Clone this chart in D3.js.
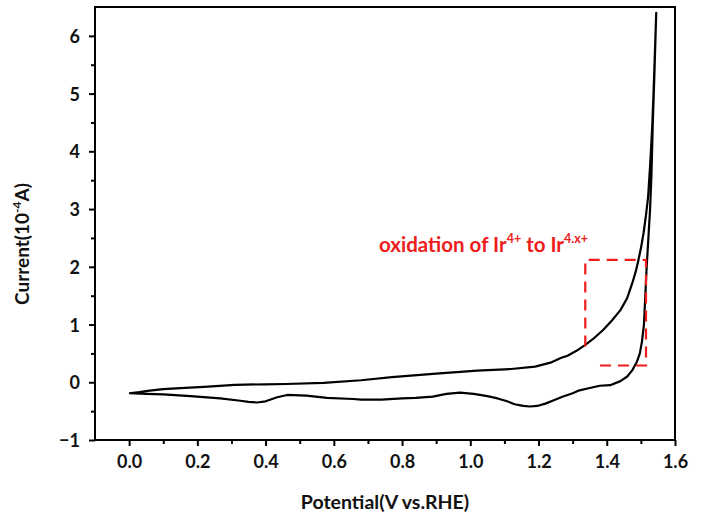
<!DOCTYPE html>
<html>
<head>
<meta charset="utf-8">
<script src="https://cdn.jsdelivr.net/npm/d3@7"></script>
<style>
  html, body { margin: 0; padding: 0; background: #fff; }
  svg { display: block; }
  text { font-family: Lato, "Open Sans", sans-serif; font-weight: bold; }
</style>
</head>
<body>
<svg id="chart" width="701" height="517"></svg>
<script>
// Cyclic voltammogram: forward (anodic) sweep
const forwardPotential = [0.00, 0.03, 0.06, 0.10, 0.15, 0.22, 0.31, 0.40, 0.46, 0.57, 0.68, 0.77, 0.90, 1.02, 1.12, 1.19, 1.235, 1.265, 1.285, 1.31, 1.335, 1.36, 1.39, 1.415, 1.44, 1.46, 1.475, 1.485, 1.493, 1.501, 1.508, 1.515, 1.521, 1.527, 1.533, 1.537, 1.541, 1.545];
const forwardCurrent   = [-0.19, -0.17, -0.145, -0.12, -0.10, -0.08, -0.045, -0.035, -0.03, -0.01, 0.035, 0.09, 0.15, 0.20, 0.23, 0.27, 0.34, 0.42, 0.46, 0.54, 0.64, 0.75, 0.91, 1.07, 1.25, 1.46, 1.72, 1.92, 2.12, 2.35, 2.59, 2.90, 3.20, 3.75, 4.40, 5.00, 5.70, 6.40];

// Reverse (cathodic) sweep
const reversePotential = [1.545, 1.540, 1.535, 1.531, 1.527, 1.521, 1.517, 1.513, 1.509, 1.503, 1.497, 1.488, 1.475, 1.46, 1.44, 1.41, 1.38, 1.35, 1.32, 1.30, 1.27, 1.245, 1.22, 1.196, 1.175, 1.155, 1.13, 1.108, 1.08, 1.05, 1.01, 0.97, 0.93, 0.89, 0.84, 0.80, 0.74, 0.68, 0.657, 0.58, 0.52, 0.463, 0.434, 0.40, 0.375, 0.35, 0.326, 0.267, 0.18, 0.10, 0.05, 0.00];
const reverseCurrent   = [6.40, 5.40, 4.50, 3.60, 3.00, 2.40, 2.00, 1.50, 1.00, 0.70, 0.50, 0.35, 0.21, 0.10, 0.02, -0.05, -0.06, -0.10, -0.14, -0.19, -0.25, -0.31, -0.37, -0.41, -0.42, -0.41, -0.38, -0.33, -0.28, -0.24, -0.20, -0.18, -0.20, -0.25, -0.27, -0.28, -0.30, -0.30, -0.29, -0.27, -0.23, -0.22, -0.26, -0.33, -0.35, -0.34, -0.32, -0.28, -0.24, -0.21, -0.20, -0.19];

// Axis ticks
const xTicks = [0.0, 0.2, 0.4, 0.6, 0.8, 1.0, 1.2, 1.4, 1.6];
const xMinorTicks = [0.1, 0.3, 0.5, 0.7, 0.9, 1.1, 1.3, 1.5];
const yTicks = [-1, 0, 1, 2, 3, 4, 5, 6];
const yMinorTicks = [-0.5, 0.5, 1.5, 2.5, 3.5, 4.5, 5.5];

// Highlighted region (open dashed outline), potential / current pairs
const boxPotential = [1.38, 1.515, 1.515, 1.337, 1.337];
const boxCurrent   = [0.29, 0.29, 2.12, 2.12, 0.56];

const svg = d3.select("#chart");
const plotLeft = 95, plotRight = 675, plotTop = 7, plotBottom = 440;

const x = d3.scaleLinear().domain([-0.1, 1.6]).range([plotLeft, plotRight]);
const y = d3.scaleLinear().domain([-1, 6.5]).range([plotBottom, plotTop]);

const line = d3.line().x(d => x(d[0])).y(d => y(d[1]));

const loop = forwardPotential.map((p, i) => [p, forwardCurrent[i]])
  .concat(reversePotential.map((p, i) => [p, reverseCurrent[i]]));

// Frame
svg.append("rect")
  .attr("x", plotLeft).attr("y", plotTop)
  .attr("width", plotRight - plotLeft).attr("height", plotBottom - plotTop)
  .attr("fill", "none").attr("stroke", "#000").attr("stroke-width", 2);

// Bottom axis
const xAxis = svg.append("g").attr("transform", `translate(0,${plotBottom})`)
  .call(d3.axisBottom(x).tickValues(xTicks).tickFormat(d3.format(".1f")).tickSize(6).tickPadding(9));
svg.append("g").attr("transform", `translate(0,${plotBottom})`)
  .call(d3.axisBottom(x).tickValues(xMinorTicks).tickFormat("").tickSize(4));

// Left axis
const yAxis = svg.append("g").attr("transform", `translate(${plotLeft},0)`)
  .call(d3.axisLeft(y).tickValues(yTicks).tickFormat(d3.format("d")).tickSize(6).tickPadding(9));
svg.append("g").attr("transform", `translate(${plotLeft},0)`)
  .call(d3.axisLeft(y).tickValues(yMinorTicks).tickFormat("").tickSize(4));

svg.selectAll(".domain").remove();
svg.selectAll(".tick line").attr("stroke", "#000").attr("stroke-width", 2);
svg.selectAll(".tick text")
  .attr("fill", "#111")
  .style("font-family", "Lato, 'Open Sans', sans-serif")
  .style("font-weight", "bold")
  .style("font-size", "18px");
yAxis.selectAll(".tick text").attr("dy", "0.36em");

// CV curve
svg.append("path")
  .datum(loop)
  .attr("d", line)
  .attr("fill", "none")
  .attr("stroke", "#000")
  .attr("stroke-width", 2.2)
  .attr("stroke-linejoin", "round");

// Dashed highlight outline
svg.append("path")
  .datum(boxPotential.map((p, i) => [p, boxCurrent[i]]))
  .attr("d", line)
  .attr("fill", "none")
  .attr("stroke", "#ee1c1c")
  .attr("stroke-width", 2.2)
  .attr("stroke-dasharray", "11,7");

// Annotation
const note = svg.append("text")
  .attr("x", 379).attr("y", 252)
  .attr("fill", "#ee1c1c")
  .style("font-size", "20.5px");
note.append("tspan").text("oxidation of Ir");
note.append("tspan").attr("dy", -9).style("font-size", "12.5px").text("4+");
note.append("tspan").attr("dy", 9).text(" to Ir");
note.append("tspan").attr("dy", -9).style("font-size", "12.5px").text("4.x+");

// Axis titles
svg.append("text")
  .attr("x", 385).attr("y", 509)
  .attr("text-anchor", "middle")
  .attr("fill", "#111")
  .style("font-size", "19.5px")
  .text("Potential(V vs.RHE)");

const yTitle = svg.append("text")
  .attr("transform", "translate(29,244) rotate(-90)")
  .attr("text-anchor", "middle")
  .attr("fill", "#111")
  .style("font-size", "19px");
yTitle.append("tspan").text("Current(10");
yTitle.append("tspan").attr("dy", -8).style("font-size", "12px").text("-4");
yTitle.append("tspan").attr("dy", 8).text("A)");
</script>
</body>
</html>
